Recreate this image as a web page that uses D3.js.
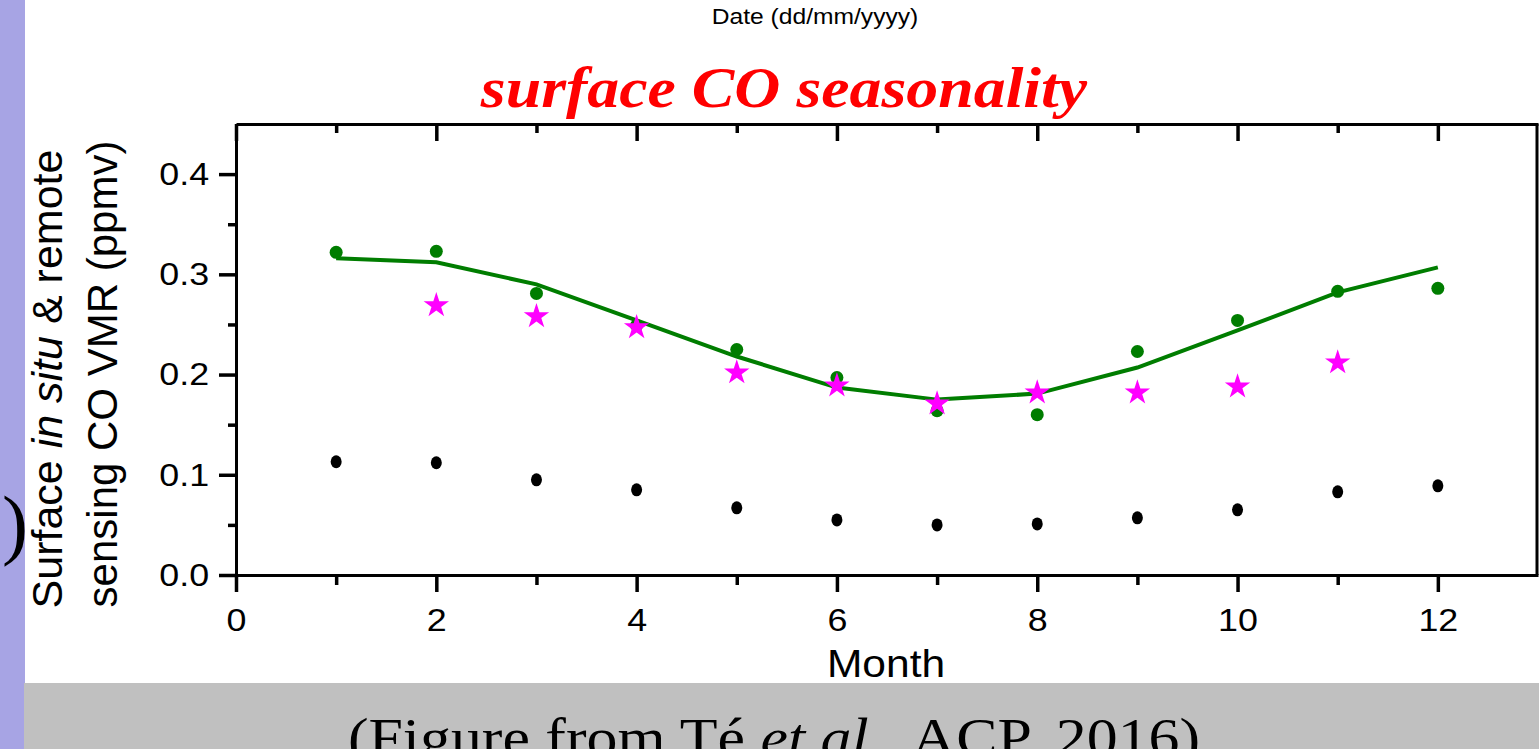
<!DOCTYPE html>
<meta charset="utf-8">
<head>
  <meta charset="UTF-8">
</head>

<style>

body {
  margin: 0;
  background: #fff;
}

.axis path,
.axis line {
  fill: none;
  stroke: #000;
  stroke-width: 3;
}

.axis line {
  stroke-width: 3.5;
}

.axis text {
  font-family: "Liberation Sans", Arial, sans-serif;
  font-size: 32px;
  fill: #000;
}

</style>
<body>
<script src="https://cdn.jsdelivr.net/npm/d3@7/dist/d3.min.js"></script>
<script type="text/javascript">

// --------------------------- data --------------------------
var months = [1, 2, 3, 4, 5, 6, 7, 8, 9, 10, 11, 12];

// green dots (in situ) and the green fitted curve
var greenDots = [0.322, 0.323, 0.281, 0.249, 0.225, 0.197, 0.164, 0.160, 0.223, 0.254, 0.283, 0.286];
var greenFit  = [0.316, 0.312, 0.290, 0.254, 0.218, 0.187, 0.175, 0.181, 0.207, 0.244, 0.282, 0.307];

// magenta stars (remote sensing), no value for Jan and Dec
var starMonths = [2, 3, 4, 5, 6, 7, 8, 9, 10, 11];
var starVals   = [0.269, 0.258, 0.247, 0.202, 0.189, 0.171, 0.182, 0.182, 0.188, 0.212];

// black dots
var blackDots = [0.113, 0.112, 0.095, 0.085, 0.067, 0.055, 0.050, 0.051, 0.057, 0.065, 0.083, 0.089];

var xMajor = [0, 2, 4, 6, 8, 10, 12],
    xMinor = [1, 3, 5, 7, 9, 11],
    yMajor = [0, 0.1, 0.2, 0.3, 0.4],
    yMinor = [0.05, 0.15, 0.25, 0.35];

// --------------------------- layout --------------------------
var W = 1539, H = 749;
var stretch = 1.12;   // slide is a bit wider than the original figure

var x = d3.scaleLinear().domain([0, 13]).range([236, 1538]);
var y = d3.scaleLinear().domain([0, 0.45]).range([575, 124]);

var svg = d3.select("body").append("svg")
    .attr("width", W)
    .attr("height", H)
    .style("display", "block");

svg.append("rect").attr("width", W).attr("height", H).attr("fill", "#fff");
svg.append("rect").attr("x", 0).attr("y", 0).attr("width", 25).attr("height", H).attr("fill", "#a7a4e4");
svg.append("rect").attr("x", 24).attr("y", 683).attr("width", W - 24).attr("height", H - 683).attr("fill", "#c0c0c0");

// stretched text helper
function label(cx, by, txt, size, family, extra, sx) {
  var g = svg.append("g").attr("transform", "translate(" + cx + "," + by + ") scale(" + (sx || stretch) + ",1)");
  var t = g.append("text")
      .attr("text-anchor", "middle")
      .style("font-family", family)
      .style("font-size", size + "px");
  if (extra) extra(t);
  if (txt) t.text(txt);
  return t;
}

// --------------------------- axes --------------------------
svg.append("g")
    .attr("class", "axis")
    .attr("transform", "translate(0," + y(0) + ")")
    .call(d3.axisBottom(x).tickValues(xMajor).tickSize(17).tickSizeOuter(0).tickFormat(d3.format("d")))
  .selectAll("text")
    .attr("y", 56).attr("dy", 0)
    .attr("transform", "scale(" + stretch + ",1)");

svg.append("g")
    .attr("class", "axis minor")
    .attr("transform", "translate(0," + y(0) + ")")
    .call(d3.axisBottom(x).tickValues(xMinor).tickSize(10).tickFormat(""))
  .select(".domain").remove();

// top border with inward ticks
svg.append("g")
    .attr("class", "axis")
    .attr("transform", "translate(0," + y(0.45) + ")")
    .call(d3.axisBottom(x).tickValues(xMajor).tickSize(17).tickSizeOuter(0).tickFormat(""));

svg.append("g")
    .attr("class", "axis minor")
    .attr("transform", "translate(0," + y(0.45) + ")")
    .call(d3.axisBottom(x).tickValues(xMinor).tickSize(9).tickFormat(""))
  .select(".domain").remove();

svg.append("g")
    .attr("class", "axis")
    .attr("transform", "translate(" + x(0) + ",0)")
    .call(d3.axisLeft(y).tickValues(yMajor).tickSize(17).tickSizeOuter(0).tickFormat(d3.format(".1f")))
  .selectAll("text")
    .attr("x", -24)
    .attr("transform", "scale(" + stretch + ",1)");

svg.append("g")
    .attr("class", "axis minor")
    .attr("transform", "translate(" + x(0) + ",0)")
    .call(d3.axisLeft(y).tickValues(yMinor).tickSize(8).tickFormat(""))
  .select(".domain").remove();

// right border
svg.append("line")
    .attr("x1", x(13) - 1).attr("x2", x(13) - 1)
    .attr("y1", y(0.45)).attr("y2", y(0))
    .attr("stroke", "#000").attr("stroke-width", 3);

// --------------------------- series --------------------------
var green = "#007d00";

svg.append("path")
    .datum(months)
    .attr("fill", "none")
    .attr("stroke", green)
    .attr("stroke-width", 4)
    .attr("d", d3.line()
        .x(function(d) { return x(d); })
        .y(function(d, i) { return y(greenFit[i]); }));

svg.selectAll(".gdot")
    .data(months)
  .enter().append("circle")
    .attr("class", "gdot")
    .attr("cx", function(d) { return x(d); })
    .attr("cy", function(d, i) { return y(greenDots[i]); })
    .attr("r", 6.5)
    .attr("fill", green);

svg.selectAll(".star")
    .data(starMonths)
  .enter().append("path")
    .attr("class", "star")
    .attr("d", d3.symbol().type(d3.symbolStar).size(200))
    .attr("transform", function(d, i) { return "translate(" + x(d) + "," + y(starVals[i]) + ")"; })
    .attr("fill", "#ff00ff");

svg.selectAll(".bdot")
    .data(months)
  .enter().append("ellipse")
    .attr("class", "bdot")
    .attr("cx", function(d) { return x(d); })
    .attr("cy", function(d, i) { return y(blackDots[i]); })
    .attr("rx", 5.5)
    .attr("ry", 6.5)
    .attr("fill", "#000");

// --------------------------- texts --------------------------
var sans = "'Liberation Sans', Arial, sans-serif",
    serif = "'Liberation Serif', 'Times New Roman', serif";

label(815, 24, "Date (dd/mm/yyyy)", 22, sans);

label(784, 107, "surface CO seasonality", 57, serif, function(t) {
  t.style("font-weight", "bold").style("font-style", "italic").attr("fill", "#ff0000");
});

label(886, 677, "Month", 38, sans);

// y axis title, two rotated lines
var yl1 = svg.append("text")
    .attr("transform", "translate(62,379) rotate(-90)")
    .attr("text-anchor", "middle")
    .style("font-family", sans)
    .style("font-size", "43px");
yl1.append("tspan").text("Surface ");
yl1.append("tspan").style("font-style", "italic").text("in situ");
yl1.append("tspan").text(" & remote");

svg.append("text")
    .attr("transform", "translate(117,374) rotate(-90)")
    .attr("text-anchor", "middle")
    .style("font-family", sans)
    .style("font-size", "42px")
    .text("sensing CO VMR (ppmv)");

// leftover bracket from the slide
svg.append("text")
    .attr("x", 2).attr("y", 550)
    .style("font-family", serif)
    .style("font-size", "78px")
    .text(")");

// caption in the grey band
label(774, 756, null, 54, serif, function(t) {
  t.append("tspan").text("(Figure from Té ");
  t.append("tspan").style("font-style", "italic").text("et al.");
  t.append("tspan").text(", ACP, 2016)");
}, 1.145);

</script>
</body>
